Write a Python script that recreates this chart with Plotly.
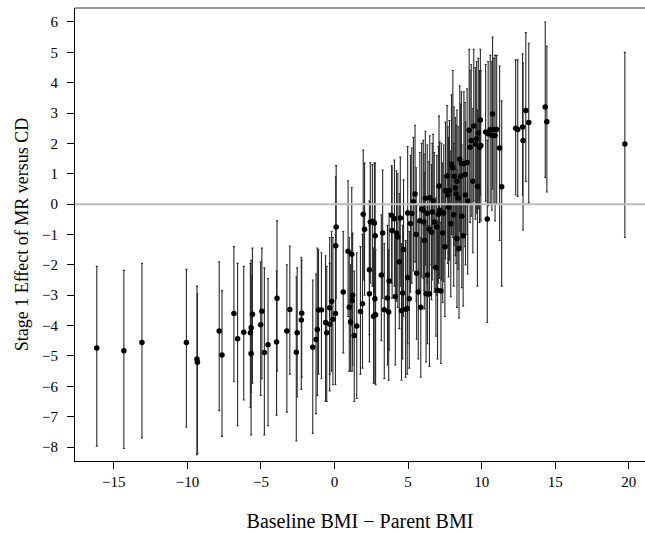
import plotly.graph_objects as go

# baseline BMI minus parent BMI (x), stage 1 effect estimate (y) and its interval
bmi_diff = [
    -16.16, -14.32, -13.09, -10.07, -9.35, -9.32, -7.84, -7.65, -6.84, -6.59,
    -6.17, -5.72, -5.67, -5.67, -5.58, -5.02, -4.94, -4.77, -4.52, -3.94,
    -3.91, -3.24, -3.04, -2.60, -2.54, -2.26, -2.23, -1.48, -1.26, -1.17,
    -1.09, -0.89, -0.61, -0.53, -0.33, -0.33, -0.20, -0.11, 0.06, 0.11,
    0.08, 0.59, 0.92, 1.00, 1.09, 1.17, 1.20, 1.23, 1.34, 1.51,
    1.76, 1.90, 1.95, 2.04, 2.37, 2.37, 2.43, 2.57, 2.65, 2.71,
    2.74, 2.79, 2.76, 3.18, 3.27, 3.38, 3.60, 3.68, 3.71, 3.88,
    3.91, 4.07, 4.13, 4.21, 4.30, 4.47, 4.55, 4.63, 4.69, 4.83,
    4.94, 4.97, 4.97, 5.08, 5.16, 5.25, 5.36, 5.47, 5.58, 5.69,
    5.86, 5.92, 6.03, 6.08, 6.17, 6.22, 6.31, 6.42, 6.47, 6.45,
    6.59, 6.64, 6.78, 6.89, 7.00, 7.06, 7.14, 7.23, 7.26, 7.42,
    7.54, 7.70, 7.65, 7.81, 7.95, 8.04, 8.12, 8.21, 8.26, 8.32,
    8.32, 8.46, 8.51, 8.57, 8.62, 8.74, 8.79, 8.87, 8.90, 9.01,
    9.15, 9.21, 9.29, 9.46, 9.57, 9.66, 9.71, 9.77, 9.85, 9.91,
    9.94, 10.27, 10.38, 10.44, 10.58, 10.69, 10.74, 10.83, 10.91, 11.02,
    11.22, 11.36, 12.31, 12.45, 12.78, 12.81, 13.00, 13.20, 14.32, 14.43,
    19.73,
    5.80, 6.30, 6.70, 6.95, 7.10, 7.35, 7.50, 7.75, 7.90, 8.10,
    8.40, 8.65, 9.05, 9.40, 5.55, 6.10, 4.40,
]
effect = [
    -4.74, -4.83, -4.56, -4.56, -5.10, -5.21, -4.18, -4.97, -3.60, -4.43,
    -4.22, -4.24, -4.07, -4.92, -3.63, -3.97, -3.53, -4.89, -4.63, -4.54,
    -3.10, -4.18, -3.47, -4.88, -4.24, -3.82, -3.59, -4.71, -4.46, -4.13,
    -3.49, -3.49, -3.90, -4.24, -3.41, -3.96, -3.20, -3.79, -3.60, -0.75,
    -1.37, -2.89, -1.55, -3.40, -3.88, -1.65, -3.17, -3.00, -4.33, -4.01,
    -3.54, -3.28, -0.33, -0.83, -2.16, -2.95, -0.59, -0.56, -3.69, -0.62,
    -3.12, -3.64, -1.04, -2.33, -0.95, -3.48, -3.09, -3.55, -2.53, -0.37,
    -0.87, -0.48, -3.04, -0.95, -1.08, -0.46, -3.51, -2.93, -1.49, -3.46,
    -3.44, -0.29, -2.42, -3.12, -0.64, -0.31, 0.08, 0.33, -2.28, -2.89,
    -3.40, -0.17, -0.20, -0.59, 0.19, -2.95, -2.33, -0.82, 0.21, -2.95,
    -0.93, -0.26, -0.59, -2.09, -2.84, -0.33, -0.20, -2.86, -0.26, -0.29,
    0.45, 0.30, 0.93, 0.45, 1.31, 1.20, 0.92, 0.53, 0.33, 0.75,
    -1.13, -1.46, 1.48, 0.92, 1.34, -1.04, 1.34, 0.98, 0.30, 1.37,
    2.43, 1.87, 2.10, 2.57, 1.98, 2.15, 0.58, 2.34, 1.87, 2.77,
    1.93, 2.38, -0.49, 2.32, 2.46, 2.26, 2.97, 2.46, 2.26, 2.46,
    1.85, 0.57, 2.50, 2.46, 2.54, 2.10, 3.08, 2.69, 3.20, 2.71,
    1.98,
    -0.55, -0.30, 0.10, -0.75, 0.60, -0.95, -1.40, -0.10, -0.65, -0.35,
    0.20, -0.40, 0.10, 0.75, -1.00, -1.20, -1.90,
]
ci_upper = [
    -2.05, -2.18, -1.95, -2.15, -2.70, -2.95, -1.90, -2.85, -1.40, -1.95,
    -2.05, -1.95, -1.85, -2.35, -1.45, -1.90, -1.45, -2.10, -2.45, -2.20,
    -0.55, -2.00, -1.38, -2.40, -2.10, -1.75, -1.85, -2.50, -2.30, -1.45,
    -1.50, -1.60, -1.70, -2.05, -1.10, -1.95, -0.90, -1.10, -1.00, 1.27,
    0.90, -0.90, 0.77, -1.10, -2.00, 0.55, -1.00, -0.95, -2.20, -1.60,
    -1.40, -1.00, 1.78, 1.35, 0.10, -0.70, 1.37, 1.30, -1.45, 1.36,
    -0.95, -1.50, 1.35, -0.35, 1.12, -1.30, -0.70, -1.50, -0.30, 1.27,
    1.20, 1.45, -0.90, 1.10, 1.00, 1.55, -1.30, -0.70, 0.80, -1.20,
    -1.25, 1.90, -0.20, -0.90, 1.60, 1.85, 2.20, 2.60, -0.05, -0.60,
    -1.10, 2.00, 2.10, 1.65, 2.40, -0.70, -0.10, 1.40, 2.25, -0.70,
    1.30, 2.00, 1.70, 0.20, -0.55, 1.90, 2.05, -0.60, 2.00, 1.95,
    2.70, 2.55, 3.25, 2.75, 3.60, 4.40, 3.20, 2.85, 2.60, 3.10,
    1.15, 0.85, 3.90, 3.30, 3.70, 1.30, 3.70, 3.35, 2.70, 3.80,
    5.10, 4.40, 4.60, 5.10, 4.50, 4.70, 3.10, 4.80, 4.40, 5.10,
    4.40, 4.60, 2.10, 4.70, 4.90, 4.70, 5.50, 4.80, 4.90, 4.90,
    4.55, 3.40, 4.75, 4.75, 4.95, 4.65, 5.65, 5.30, 6.00, 5.20,
    5.00,
    1.70, 1.95, 2.30, 1.60, 2.90, 1.35, 0.95, 2.20, 1.75, 2.00,
    2.55, 1.95, 2.50, 3.15, 1.20, 1.05, 0.35,
]
ci_lower = [
    -7.97, -8.05, -7.70, -7.35, -8.25, -8.20, -6.80, -7.65, -5.85, -7.30,
    -6.45, -6.70, -6.20, -7.60, -5.90, -6.30, -5.75, -7.60, -7.30, -6.95,
    -5.50, -6.85, -5.60, -7.80, -6.35, -6.10, -5.70, -7.55, -6.90, -6.30,
    -5.60, -5.75, -6.50, -6.50, -5.60, -6.15, -5.50, -5.95, -5.95, -3.10,
    -3.60, -4.90, -3.70, -5.50, -5.50, -4.00, -5.50, -5.30, -6.50, -6.40,
    -5.60, -5.40, -2.50, -3.00, -4.30, -5.20, -2.60, -2.70, -5.90, -2.90,
    -5.90, -5.95, -3.20, -4.50, -3.10, -5.75, -5.30, -5.80, -4.80, -2.60,
    -3.10, -2.70, -5.30, -3.20, -3.40, -2.70, -5.80, -5.10, -3.70, -5.70,
    -5.60, -2.50, -4.60, -5.40, -2.90, -2.60, -2.20, -1.90, -4.45, -5.10,
    -5.70, -2.40, -2.45, -2.85, -2.00, -5.20, -4.60, -3.05, -2.00, -5.35,
    -3.15, -2.50, -2.90, -4.35, -5.10, -2.60, -2.45, -5.25, -2.50, -2.55,
    -1.80, -1.95, -1.40, -1.85, -1.00, -1.10, -1.35, -1.70, -1.95, -1.55,
    -3.40, -3.75, -0.90, -1.40, -1.00, -3.35, -1.00, -1.40, -2.00, -1.00,
    0.00, -0.60, -0.40, 0.10, -0.50, -0.30, -2.70, -0.15, -0.60, 0.30,
    -0.55, 0.10, -3.90, -0.05, 0.05, -0.20, 0.50, 0.00, -0.55, 0.00,
    -1.20, -2.70, 0.30, 0.25, 0.30, -0.85, 0.75, 0.05, 0.88, 0.40,
    -1.10,
    -2.80, -2.60, -2.10, -3.00, -1.70, -3.25, -3.70, -2.40, -3.05, -2.70,
    -2.15, -2.75, -2.30, -1.60, -3.20, -3.45, -4.10,
]

x_ticks = [-15, -10, -5, 0, 5, 10, 15, 20]
y_ticks = list(range(-8, 7))

err_plus = [hi - v for hi, v in zip(ci_upper, effect)]
err_minus = [v - lo for lo, v in zip(ci_lower, effect)]

serif = "Liberation Serif, Times New Roman, serif"

trace = go.Scatter(
    x=bmi_diff, y=effect,
    mode="markers",
    marker=dict(size=5.5, color="black"),
    error_y=dict(type="data", symmetric=False,
                 array=err_plus, arrayminus=err_minus,
                 color="#2a2a2a", thickness=1.1, width=1),
    showlegend=False,
    hoverinfo="x+y",
)

fig = go.Figure(data=[trace])

# reference line at zero drawn over the bars
fig.add_shape(type="line", xref="paper", x0=0, x1=1, yref="y", y0=0, y1=0,
              line=dict(color="#bdbdbd", width=2), layer="above")
# top frame edge (the right edge falls outside the picture)
fig.add_shape(type="line", xref="paper", x0=0, x1=1, yref="paper", y0=1, y1=1,
              line=dict(color="#333333", width=1), layer="above")

fig.update_layout(
    width=645, height=533,
    margin=dict(l=75, r=0, t=8, b=72),
    plot_bgcolor="white", paper_bgcolor="white",
    font=dict(family=serif, color="black", size=15),
    xaxis=dict(
        range=[-17.64, 21.1],
        tickvals=x_ticks,
        ticktext=[str(t).replace("-", "\u2212") for t in x_ticks],
        ticks="outside", ticklen=7, tickcolor="black",
        showline=True, linecolor="black", linewidth=1,
        showgrid=False, zeroline=False, automargin=False,
        title=dict(text="Baseline BMI \u2212 Parent BMI",
                   font=dict(size=20), standoff=24),
    ),
    yaxis=dict(
        range=[-8.46, 6.46],
        tickvals=y_ticks,
        ticktext=[str(t).replace("-", "\u2212") for t in y_ticks],
        ticks="outside", ticklen=7, tickcolor="black", ticklabelstandoff=6,
        showline=True, linecolor="black", linewidth=1,
        showgrid=False, zeroline=False, automargin=False,
        title=dict(text="Stage 1 Effect of MR versus CD",
                   font=dict(size=18), standoff=8),
    ),
)

# drop the default page margin so the figure sits at the window corner
fig.write_html("out.html",
               config={"displayModeBar": False},
               post_script="document.body.style.margin='0';"
                           "document.body.style.overflow='hidden';")
